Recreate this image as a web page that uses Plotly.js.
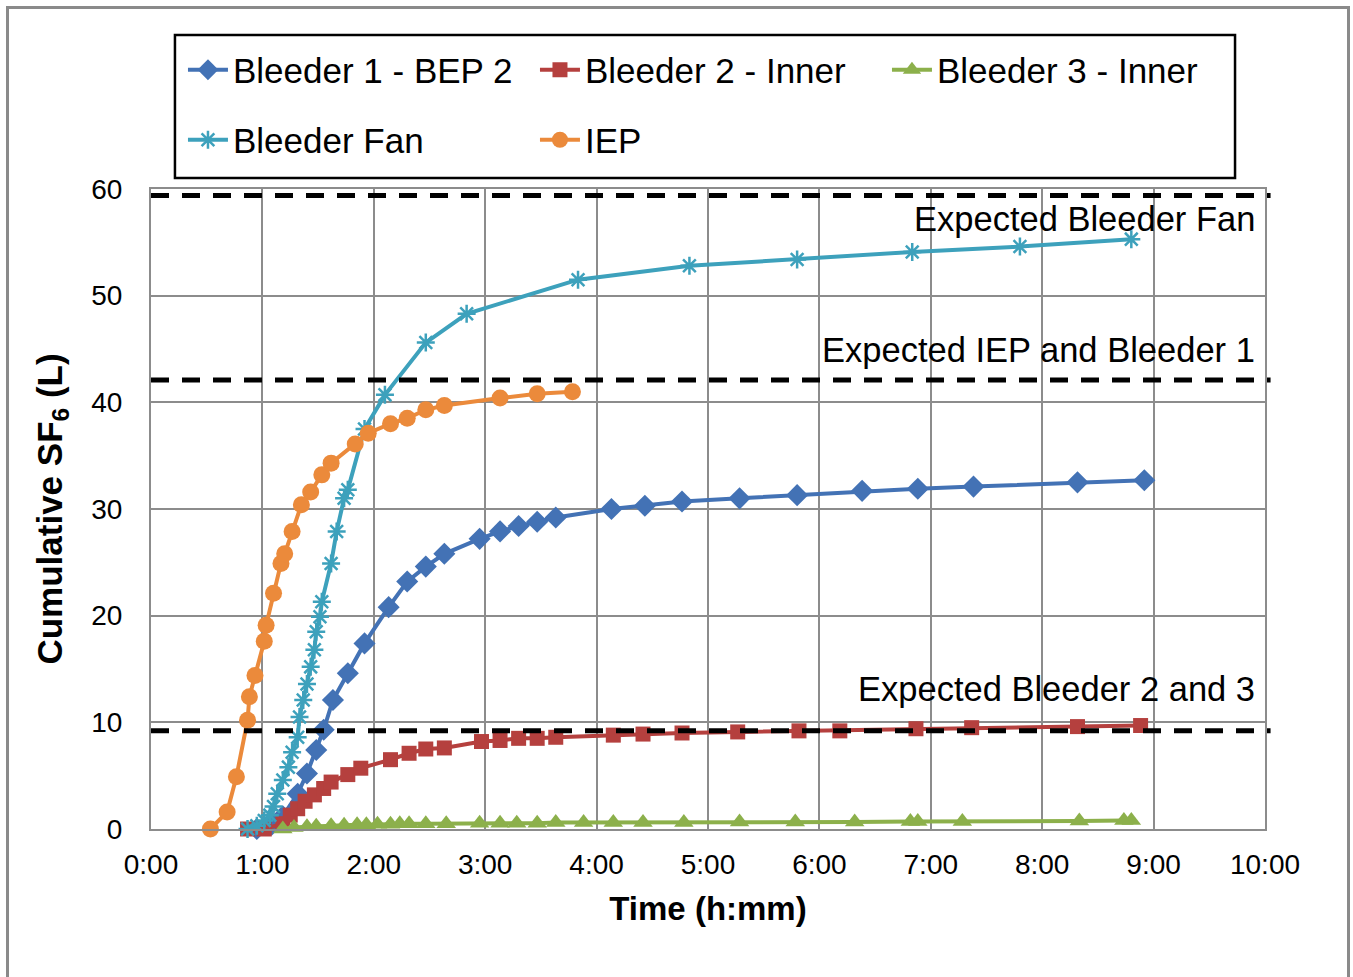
<!DOCTYPE html>
<html>
<head>
<meta charset="utf-8">
<script src="https://cdn.plot.ly/plotly-3.0.1.min.js"></script>
<style>
  html, body { margin: 0; padding: 0; background: #fff; }
  #chart { width: 1353px; height: 977px; }
  #frame { position: absolute; left: 6px; top: 6px; width: 1344px; height: 990px;
           border: 3px solid #8a8a8a; box-sizing: border-box; pointer-events: none; }
</style>
</head>
<body>
<div id="chart"></div>
<div id="frame"></div>
<script>
// ---- data (time in minutes since start, cumulative SF6 in L) ----
const bleeder1Time = [57,65,71,79,84,89,93,98,106,115,128,138,148,158,177,188,198,208,218,248,266,286,317,348,383,413,443,499,535];
const bleeder1Vals = [0,0.4,1.2,3.3,5.2,7.4,9.3,12.1,14.6,17.4,20.8,23.2,24.6,25.8,27.2,27.9,28.4,28.8,29.2,30.0,30.3,30.7,31.0,31.3,31.7,31.9,32.1,32.5,32.7];

const bleeder2Time = [52,61,71,75,79,83,88,93,97,106,113,129,139,148,158,178,188,198,208,218,249,265,286,316,349,371,412,442,499,533];
const bleeder2Vals = [0,0,0.5,1.3,1.9,2.6,3.2,3.8,4.4,5.1,5.7,6.5,7.1,7.5,7.6,8.2,8.3,8.5,8.5,8.6,8.8,8.9,9.0,9.1,9.2,9.2,9.4,9.5,9.6,9.7];

const bleeder3Time = [71,77,84,89,97,104,111,116,122,129,134,139,148,159,177,188,197,208,218,233,249,265,287,317,347,379,409,413,437,500,524,528];
const bleeder3Vals = [0,0.15,0.2,0.25,0.3,0.35,0.4,0.4,0.45,0.45,0.5,0.5,0.5,0.5,0.55,0.55,0.55,0.55,0.6,0.6,0.6,0.6,0.6,0.65,0.65,0.65,0.7,0.7,0.7,0.75,0.8,0.8];

const fanTime = [52,57,61,64,66,68,71,74,76,79,80,82,84,86,88,89,91,92,97,100,104,106,115,126,148,170,230,290,348,410,468,528];
const fanVals = [0,0.3,0.8,1.3,2.1,3.3,4.6,5.8,7.2,8.6,10.5,12.1,13.6,15.2,16.8,18.5,19.9,21.3,24.9,27.9,31.0,31.8,37.5,40.7,45.6,48.3,51.5,52.8,53.4,54.1,54.6,55.3];

const iepTime = [32,41,46,52,53,56,61,62,66,70,72,76,81,86,92,97,110,117,129,138,148,158,188,208,227];
const iepVals = [0,1.6,4.9,10.2,12.4,14.4,17.6,19.1,22.1,24.9,25.8,27.9,30.4,31.6,33.2,34.3,36.1,37.1,38.0,38.5,39.3,39.7,40.4,40.8,41.0];

// expected levels (L) and their labels
const expectedVals = [59.4, 42.1, 9.2];
const expectedLabels = ['Expected Bleeder Fan', 'Expected IEP and Bleeder 1', 'Expected Bleeder 2 and 3'];
const expectedLabelY = [57.2, 44.9, 13.1];

// axis ticks
const xTickVals = [0,60,120,180,240,300,360,420,480,540,600];
const xTickText = ['0:00','1:00','2:00','3:00','4:00','5:00','6:00','7:00','8:00','9:00','10:00'];

const FONT = 'Liberation Sans, Arial, sans-serif';

function series(name, x, y, color, symbol, size, legend) {
  return {
    type: 'scatter', mode: 'lines+markers', name: name, x: x, y: y,
    line: { color: color, width: 4 },
    marker: { color: color, symbol: symbol, size: size,
              line: { color: color, width: symbol.indexOf('open') >= 0 ? 2.5 : 0 } },
    legend: legend, cliponaxis: false
  };
}

const traces = [
  series('Bleeder 1 - BEP 2', bleeder1Time, bleeder1Vals, '#4372B5', 'diamond', 17, 'legend'),
  series('Bleeder 2 - Inner', bleeder2Time, bleeder2Vals, '#B5403E', 'square', 15, 'legend'),
  series('Bleeder 3 - Inner', bleeder3Time, bleeder3Vals, '#8CB04B', 'triangle-up', 17, 'legend'),
  series('Bleeder Fan', fanTime, fanVals, '#3DA1BC', 'asterisk-open', 15, 'legend2'),
  series('IEP', iepTime, iepVals, '#EB8A3B', 'circle', 17, 'legend2')
];

const shapes = expectedVals.map(v => ({
  type: 'line', xref: 'paper', yref: 'y', x0: 0, x1: 1.005, y0: v, y1: v,
  line: { color: '#000', width: 5, dash: '18px,13px' }, layer: 'above'
}));
// legend frame
shapes.push({ type: 'rect', xref: 'paper', yref: 'paper',
  x0: 0.0215, x1: 0.9731, y0: 1.0172, y1: 1.2406,
  line: { color: '#000', width: 2.5 }, fillcolor: 'rgba(0,0,0,0)', layer: 'above' });

const annotations = expectedLabels.map((t, i) => ({
  text: t, xref: 'paper', yref: 'y', x: 0.993, y: expectedLabelY[i],
  xanchor: 'right', yanchor: 'middle', showarrow: false,
  font: { family: FONT, size: 34.5, color: '#000' }
}));

const legendCommon = {
  orientation: 'h', xanchor: 'left', yanchor: 'middle', x: 0.0287,
  font: { family: FONT, size: 35, color: '#000' },
  bgcolor: 'rgba(0,0,0,0)', borderwidth: 0, itemwidth: 40,
  entrywidth: 297, entrywidthmode: 'pixels', traceorder: 'normal'
};

const layout = {
  width: 1353, height: 977,
  margin: { l: 151, r: 88, t: 189, b: 148, pad: 0 },
  paper_bgcolor: '#fff', plot_bgcolor: '#fff',
  font: { family: FONT, color: '#000' },
  showlegend: true,
  legend: Object.assign({}, legendCommon, { y: 1.1859 }),
  legend2: Object.assign({}, legendCommon, { y: 1.0766 }),
  xaxis: {
    range: [0, 600], tickmode: 'array', tickvals: xTickVals, ticktext: xTickText,
    showgrid: true, gridcolor: '#8c8c8c', gridwidth: 2,
    showline: true, linecolor: '#8c8c8c', linewidth: 2, mirror: true,
    zeroline: false, ticks: '', ticklabelstandoff: 9,
    tickfont: { family: FONT, size: 28, color: '#000' },
    title: { text: '<b>Time (h:mm)</b>', standoff: 18,
             font: { family: FONT, size: 33, color: '#000' } },
    automargin: false
  },
  yaxis: {
    range: [0, 60], dtick: 10, tick0: 0,
    showgrid: true, gridcolor: '#8c8c8c', gridwidth: 2,
    showline: true, linecolor: '#8c8c8c', linewidth: 2, mirror: true,
    zeroline: false, ticks: '', ticklabelstandoff: 21,
    tickfont: { family: FONT, size: 28, color: '#000' },
    title: { text: '<b>Cumulative SF<sub>6</sub> (L)</b>', standoff: 18,
             font: { family: FONT, size: 35, color: '#000' } },
    automargin: false
  },
  shapes: shapes,
  annotations: annotations
};

Plotly.newPlot('chart', traces, layout, { displayModeBar: false, staticPlot: true });
</script>
</body>
</html>
